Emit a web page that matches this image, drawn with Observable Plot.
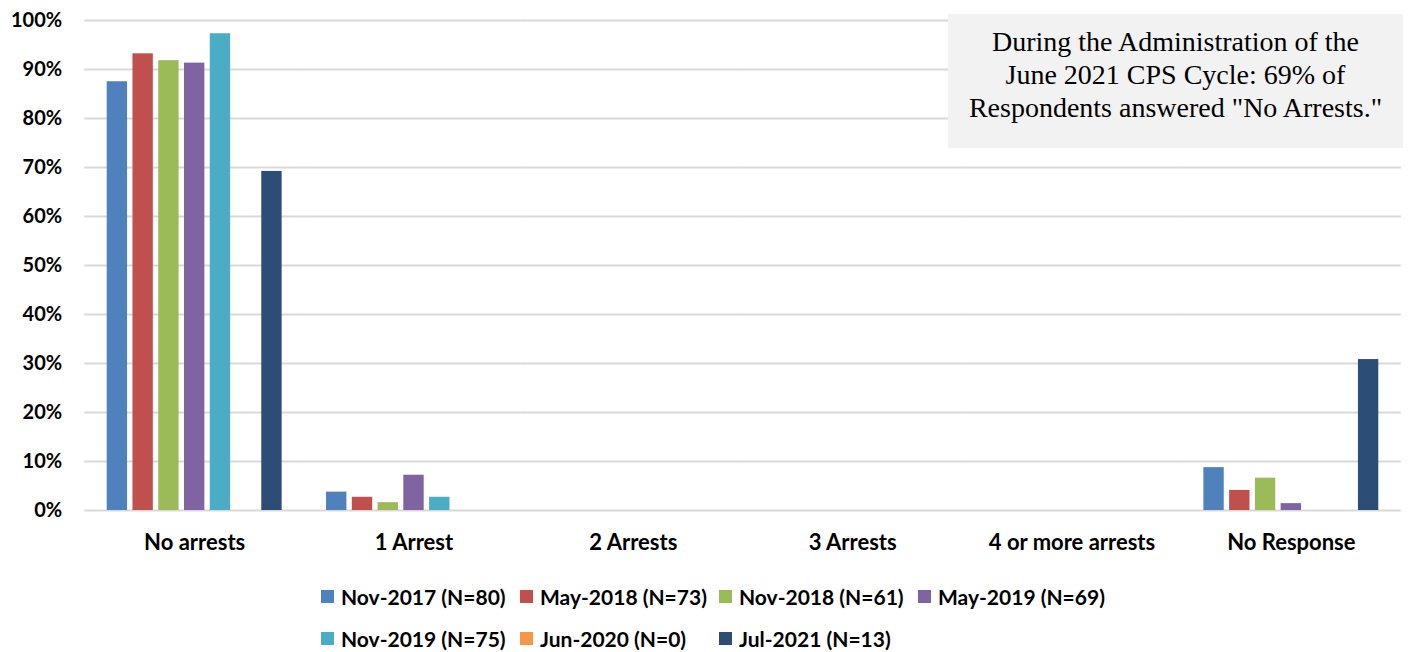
<!DOCTYPE html>
<html>
<head>
<meta charset="utf-8">
<script src="https://cdn.jsdelivr.net/npm/d3@7"></script>
<script src="https://cdn.jsdelivr.net/npm/@observablehq/plot@0.6"></script>
<style>
  body { margin: 0; background: #fff; }
  #wrap { position: relative; width: 1410px; height: 652px; overflow: hidden; }
  #note { position: absolute; left: 948px; top: 14px; width: 455px; height: 134px; background: #f2f2f2;
          font-family: "Liberation Serif", "Times New Roman", serif; font-size: 28px; line-height: 33px;
          text-align: center; box-sizing: border-box; padding-top: 11px; color: #000; }
  #legend { position: absolute; left: 321px; top: 575px; display: grid; grid-template-columns: repeat(4, 199px);
            grid-auto-rows: 42px; font-family: Lato, sans-serif; font-weight: 700; font-size: 21px; color: #000; }
  .item { display: flex; align-items: center; white-space: nowrap; }
  .sw { width: 13px; height: 13px; margin-right: 7px; flex: none; }
</style>
</head>
<body>
<div id="wrap"></div>
<script>
const categories = ["No arrests", "1 Arrest", "2 Arrests", "3 Arrests", "4 or more arrests", "No Response"];
const series = ["Nov-2017 (N=80)", "May-2018 (N=73)", "Nov-2018 (N=61)", "May-2019 (N=69)", "Nov-2019 (N=75)", "Jun-2020 (N=0)", "Jul-2021 (N=13)"];
const colors = ["#4F81BD", "#C0504D", "#9BBB59", "#8064A2", "#4BACC6", "#F79646", "#2C4D75"];

const nov2017 = [0.875, 0.0375, 0, 0, 0, 0.0875];
const may2018 = [0.932, 0.027, 0, 0, 0, 0.041];
const nov2018 = [0.918, 0.016, 0, 0, 0, 0.066];
const may2019 = [0.913, 0.072, 0, 0, 0, 0.014];
const nov2019 = [0.973, 0.027, 0, 0, 0, 0];
const jun2020 = [0, 0, 0, 0, 0, 0];
const jul2021 = [0.692, 0, 0, 0, 0, 0.308];

const yTicks = [0, 0.1, 0.2, 0.3, 0.4, 0.5, 0.6, 0.7, 0.8, 0.9, 1];
const noteLines = ["During the Administration of the", "June 2021 CPS Cycle: 69% of", "Respondents answered \"No Arrests.\""];

const seriesValues = [nov2017, may2018, nov2018, may2019, nov2019, jun2020, jul2021];
const data = series.flatMap((s, i) => categories.map((c, j) => ({category: c, series: s, value: seriesValues[i][j]})));

const chart = Plot.plot({
  width: 1410,
  height: 570,
  marginLeft: 85,
  marginRight: 10,
  marginTop: 20,
  marginBottom: 60,
  style: {fontFamily: "Lato, sans-serif", fontWeight: 700, color: "#000", background: "transparent"},
  fx: {domain: categories, paddingInner: 0.2025, paddingOuter: 0.099, round: false, label: null},
  x: {domain: series, paddingInner: 0.21, paddingOuter: 0, round: false, axis: null},
  y: {domain: [0, 1], label: null},
  color: {domain: series, range: colors},
  marks: [
    Plot.ruleY(yTicks, {stroke: "#d9d9d9", strokeWidth: 2, insetLeft: -22.5, insetRight: -22.5}),
    Plot.barY(data, {fx: "category", x: "series", y: "value", fill: "series"}),
    Plot.axisY(yTicks, {tickSize: 0, tickPadding: 45, tickFormat: d3.format(".0%"), fontSize: 20, label: null}),
    Plot.axisFx({anchor: "bottom", tickSize: 0, tickPadding: 24, fontSize: 22, label: null})
  ]
});

const wrap = document.getElementById("wrap");
wrap.appendChild(chart);

const note = document.createElement("div");
note.id = "note";
note.innerHTML = noteLines.map(l => `<div>${l.replace(/"/g, "&quot;")}</div>`).join("");
wrap.appendChild(note);

const legend = document.createElement("div");
legend.id = "legend";
series.forEach((s, i) => {
  const item = document.createElement("div");
  item.className = "item";
  item.innerHTML = `<span class="sw" style="background:${colors[i]}"></span><span>${s}</span>`;
  legend.appendChild(item);
});
wrap.appendChild(legend);
</script>
</body>
</html>
